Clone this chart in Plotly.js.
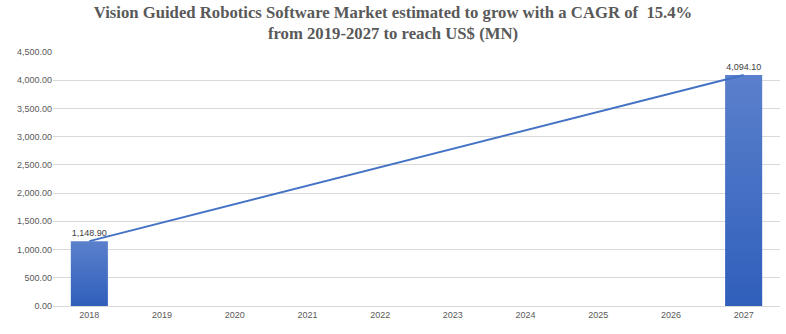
<!DOCTYPE html>
<html>
<head>
<meta charset="utf-8">
<script src="https://cdn.plot.ly/plotly-3.0.1.min.js"></script>
<style>html,body{margin:0;padding:0;background:#fff;}#chart{width:786px;height:334px;}</style>
</head>
<body>
<div id="chart"></div>
<script>
var years = ['2018','2019','2020','2021','2022','2023','2024','2025','2026','2027'];
var barValues = [1148.90, null, null, null, null, null, null, null, null, 4094.10];
var lineYears = ['2018', '2027'];
var lineValues = [1148.90, 4094.10];
var yTicks = [0, 500, 1000, 1500, 2000, 2500, 3000, 3500, 4000, 4500];

var bars = {
  type: 'bar', x: years, y: barValues, width: 0.51,
  marker: {color: '#4470c4', line: {width: 0}},
  text: barValues.map(function(v){return v === null ? '' : v.toLocaleString('en-US',{minimumFractionDigits:2, maximumFractionDigits:2});}),
  textposition: 'outside', cliponaxis: false,
  textfont: {family: 'Liberation Sans, Arial, sans-serif', size: 9, color: '#404040'},
  hoverinfo: 'none', showlegend: false
};
var line = {
  type: 'scatter', mode: 'lines', x: lineYears, y: lineValues,
  line: {color: '#4472c4', width: 2}, hoverinfo: 'none', showlegend: false
};
var layout = {
  width: 786, height: 334,
  margin: {l: 53, r: 6, t: 52, b: 28},
  paper_bgcolor: '#ffffff', plot_bgcolor: '#ffffff',
  title: {
    text: '<b>Vision Guided Robotics Software Market estimated to grow with a CAGR of  15.4%<br>from 2019-2027 to reach US$ (MN)</b>',
    font: {family: 'Liberation Serif, serif', size: 16.7, color: '#595959'},
    x: 0.5, xanchor: 'center', y: 0.947, yanchor: 'middle'
  },
  xaxis: {
    type: 'category', categoryorder: 'array', categoryarray: years,
    showgrid: false, showline: true, linecolor: '#d9d9d9', linewidth: 1,
    ticks: '', tickfont: {family: 'Liberation Sans, Arial, sans-serif', size: 9, color: '#595959'},
    fixedrange: true
  },
  yaxis: {
    range: [0, 4500], tickvals: yTicks, tickformat: ',.2f',
    showgrid: true, gridcolor: '#d9d9d9', gridwidth: 1, zeroline: false, showline: false,
    ticks: '', tickfont: {family: 'Liberation Sans, Arial, sans-serif', size: 9, color: '#595959'},
    fixedrange: true
  },
  bargap: 0.49
};
Plotly.newPlot('chart', [bars, line], layout, {displayModeBar: false, staticPlot: true}).then(function(gd){
  var svg = gd.querySelector('svg.main-svg');
  var ns = 'http://www.w3.org/2000/svg';
  var defs = svg.querySelector('defs') || svg.insertBefore(document.createElementNS(ns,'defs'), svg.firstChild);
  var grad = document.createElementNS(ns, 'linearGradient');
  grad.setAttribute('id', 'barGrad');
  grad.setAttribute('x1', '0'); grad.setAttribute('y1', '0');
  grad.setAttribute('x2', '0'); grad.setAttribute('y2', '1');
  [['0', '#5b80cc'], ['1', '#2f5fbb']].forEach(function(s){
    var st = document.createElementNS(ns, 'stop');
    st.setAttribute('offset', s[0]); st.setAttribute('stop-color', s[1]);
    grad.appendChild(st);
  });
  defs.appendChild(grad);
  gd.querySelectorAll('.barlayer .point path').forEach(function(p){
    p.style.fill = 'url(#barGrad)';
  });
});
</script>
</body>
</html>
